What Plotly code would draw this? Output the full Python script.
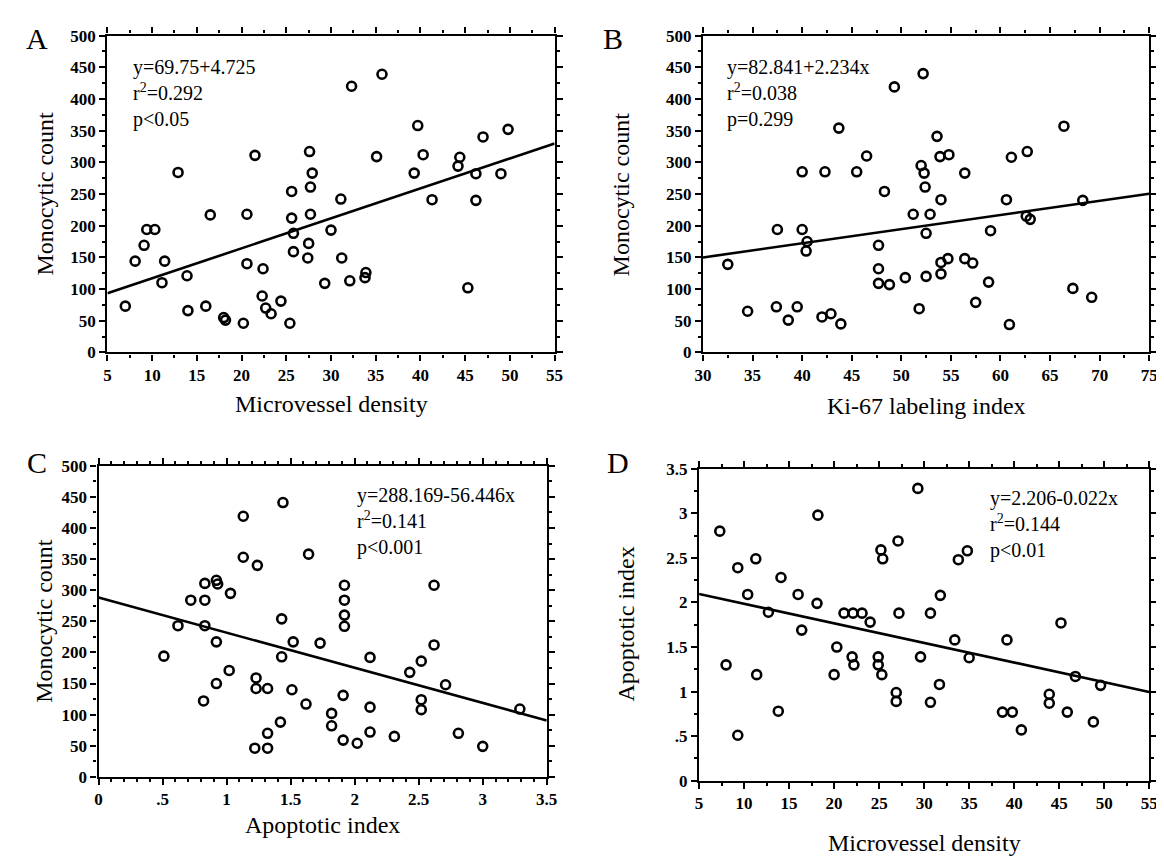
import plotly.graph_objects as go

W, H = 1164, 859

# ---------------- data ----------------
# Panel A: Microvessel density vs Monocytic count
a_mvd = [7.0, 8.1, 9.1, 9.4, 10.3, 11.4, 11.1, 12.9, 13.9, 14.0,
         16.0, 16.5, 18.0, 18.2, 20.2, 20.6, 20.6, 22.4, 22.3, 22.7,
         23.3, 24.4, 25.4, 25.6, 25.6, 25.8, 25.8, 27.6, 27.9, 27.7,
         27.7, 27.5, 27.4, 21.5, 32.3, 35.7, 39.7, 47.0, 49.8, 35.1,
         40.3, 39.3, 44.4, 44.2, 46.2, 49.0, 31.1, 41.3, 46.2, 30.0,
         31.2, 29.3, 32.1, 33.9, 33.8, 45.3]
a_mono = [73, 144, 169, 194, 194, 144, 110, 284, 121, 66,
          73, 217, 55, 51, 46, 218, 140, 132, 89, 70,
          61, 81, 46, 254, 212, 188, 159, 317, 283, 261,
          218, 172, 149, 311, 420, 439, 358, 340, 352, 309,
          312, 283, 308, 294, 282, 282, 242, 241, 240, 193,
          149, 109, 113, 126, 118, 102]

# Panel B: Ki-67 labeling index vs Monocytic count
b_ki = [32.5, 34.5, 37.4, 37.5, 38.6, 39.5, 40.0, 40.0, 40.5, 40.4,
        42.3, 42.0, 42.9, 43.9, 43.7, 45.5, 46.5, 48.3, 49.3, 47.7,
        47.7, 47.7, 48.8, 50.4, 52.2, 53.6, 53.9, 54.8, 52.0, 52.3,
        52.4, 54.0, 51.2, 52.9, 52.5, 56.4, 60.6, 61.1, 62.7, 66.4,
        68.3, 62.6, 63.0, 59.0, 54.0, 54.7, 56.4, 57.2, 54.0, 52.5,
        51.8, 57.5, 58.8, 60.9, 67.3, 69.2]
b_mono = [139, 65, 72, 194, 51, 72, 285, 194, 175, 160,
          285, 56, 61, 45, 354, 285, 310, 254, 419, 169,
          132, 109, 107, 118, 440, 341, 309, 312, 295, 283,
          261, 241, 218, 218, 188, 283, 241, 308, 317, 357,
          240, 215, 210, 192, 142, 148, 148, 141, 124, 120,
          69, 79, 111, 44, 101, 87]

# Panel C: Apoptotic index vs Monocytic count
c_ai = [0.51, 0.62, 0.72, 0.83, 0.83, 0.83, 0.82, 0.92, 0.93, 0.92,
        0.92, 1.03, 1.02, 1.13, 1.13, 1.24, 1.23, 1.23, 1.32, 1.22,
        1.32, 1.32, 1.42, 1.43, 1.43, 1.44, 1.52, 1.51, 1.62, 1.64,
        1.73, 1.92, 1.92, 1.92, 1.92, 1.91, 1.82, 1.82, 1.91, 2.02,
        2.12, 2.12, 2.12, 2.31, 2.43, 2.52, 2.52, 2.52, 2.62, 2.62,
        2.71, 2.81, 3.0, 3.29]
c_mono = [194, 243, 284, 284, 311, 243, 122, 316, 310, 217,
          150, 295, 171, 419, 353, 340, 159, 142, 142, 46,
          46, 70, 88, 254, 193, 441, 217, 140, 117, 358,
          215, 308, 284, 260, 242, 131, 102, 82, 59, 54,
          192, 112, 72, 65, 168, 186, 124, 108, 212, 308,
          148, 70, 49, 109]

# Panel D: Microvessel density vs Apoptotic index
d_mvd = [7.3, 8.0, 9.3, 9.3, 10.4, 11.3, 11.4, 12.7, 13.8, 14.1,
         16.0, 16.4, 18.2, 18.1, 20.3, 20.0, 21.1, 22.1, 23.1, 24.0,
         22.0, 22.2, 24.9, 24.9, 25.3, 25.2, 25.4, 27.1, 27.2, 26.9,
         26.9, 29.3, 33.8, 34.8, 31.8, 30.7, 33.4, 29.6, 35.0, 31.7,
         30.7, 39.2, 38.7, 39.8, 40.8, 43.9, 43.9, 45.2, 45.9, 46.8,
         49.6, 48.8]
d_ai = [2.80, 1.30, 2.39, 0.51, 2.09, 2.49, 1.19, 1.89, 0.78, 2.28,
        2.09, 1.69, 2.98, 1.99, 1.50, 1.19, 1.88, 1.88, 1.88, 1.78,
        1.39, 1.30, 1.39, 1.30, 1.19, 2.59, 2.49, 2.69, 1.88, 0.99,
        0.89, 3.28, 2.48, 2.58, 2.08, 1.88, 1.58, 1.39, 1.38, 1.08,
        0.88, 1.58, 0.77, 0.77, 0.57, 0.97, 0.87, 1.77, 0.77, 1.17,
        1.07, 0.66]

# regression lines (intercept, slope)
a_fit = (69.75, 4.725)
b_fit = (82.841, 2.234)
c_fit = (288.169, -56.446)
d_fit = (2.206, -0.022)

a_eq = ["y=69.75+4.725", "r<sup>2</sup>=0.292", "p<0.05"]
b_eq = ["y=82.841+2.234x", "r<sup>2</sup>=0.038", "p=0.299"]
c_eq = ["y=288.169-56.446x", "r<sup>2</sup>=0.141", "p<0.001"]
d_eq = ["y=2.206-0.022x", "r<sup>2</sup>=0.144", "p<0.01"]

mono_ticks = [0, 50, 100, 150, 200, 250, 300, 350, 400, 450, 500]
mvd_ticks = [5, 10, 15, 20, 25, 30, 35, 40, 45, 50, 55]
ki_ticks = [30, 35, 40, 45, 50, 55, 60, 65, 70, 75]
ai_ticks = [0, 0.5, 1, 1.5, 2, 2.5, 3, 3.5]
ai_ticktext = ["0", ".5", "1", "1.5", "2", "2.5", "3", "3.5"]

# ---------------- layout helpers ----------------
def px_x(p):
    return p / W

def px_y(p):
    return 1 - p / H

SERIF = "Liberation Serif"
tickfont = dict(family=SERIF, size=17, color="black", weight="bold")

def axis(domain, rng, tickvals, ticktext, minor_dtick, anchor):
    return dict(
        domain=domain, range=rng, anchor=anchor,
        tickmode="array", tickvals=tickvals, ticktext=ticktext,
        ticks="outside", ticklen=6, tickwidth=2, tickcolor="black",
        showline=True, linecolor="black", linewidth=2.4, mirror="ticks",
        showgrid=False, zeroline=False, tickfont=tickfont,
        minor=dict(ticks="outside", ticklen=3, tickwidth=1.5,
                   tickcolor="black", dtick=minor_dtick, showgrid=False),
    )

fig = go.Figure()

panels = [
    (a_mvd, a_mono, a_fit, [5, 55], ""),
    (b_ki, b_mono, b_fit, [30, 75], "2"),
    (c_ai, c_mono, c_fit, [0, 3.5], "3"),
    (d_mvd, d_ai, d_fit, [5, 55], "4"),
]

for xs, ys, fit, xr, s in panels:
    b0, b1 = fit
    fig.add_trace(go.Scatter(
        x=xr, y=[b0 + b1 * xr[0], b0 + b1 * xr[1]], mode="lines",
        xaxis="x" + s, yaxis="y" + s,
        line=dict(color="black", width=2.6), showlegend=False))
    fig.add_trace(go.Scatter(
        x=xs, y=ys, mode="markers", xaxis="x" + s, yaxis="y" + s,
        marker=dict(symbol="circle-open", size=9, color="black",
                    line=dict(width=2.6, color="black")),
        showlegend=False, cliponaxis=False))

# panel pixel boxes: left, right, top, bottom
boxA = (92, 547, 19, 343)
boxB = (698, 1152, 19, 343)
boxC = (83, 539, 459, 777)
boxD = (694, 1152, 462, 781)

def dom(box):
    l, r, t, b = box
    return [px_x(l), px_x(r)], [px_y(b), px_y(t)]

xa, ya = dom(boxA)
xb, yb = dom(boxB)
xc, yc = dom(boxC)
xd, yd = dom(boxD)

fig.update_layout(
    width=W, height=H, margin=dict(l=0, r=0, t=0, b=0),
    paper_bgcolor="white", plot_bgcolor="white",
    xaxis=axis(xa, [5, 55], mvd_ticks, [str(v) for v in mvd_ticks], 2.5, "y"),
    yaxis=axis(ya, [0, 500], mono_ticks, [str(v) for v in mono_ticks], 25, "x"),
    xaxis2=axis(xb, [30, 75], ki_ticks, [str(v) for v in ki_ticks], 2.5, "y2"),
    yaxis2=axis(yb, [0, 500], mono_ticks, [str(v) for v in mono_ticks], 25, "x2"),
    xaxis3=axis(xc, [0, 3.5], ai_ticks, ai_ticktext, 0.1, "y3"),
    yaxis3=axis(yc, [0, 500], mono_ticks, [str(v) for v in mono_ticks], 25, "x3"),
    xaxis4=axis(xd, [5, 55], mvd_ticks, [str(v) for v in mvd_ticks], 2.5, "y4"),
    yaxis4=axis(yd, [0, 3.5], ai_ticks, ai_ticktext, 0.25, "x4"),
)

ann = []
def text(x, y, t, size, xanchor="center", yanchor="middle", angle=0, align="center"):
    ann.append(dict(x=px_x(x), y=px_y(y), xref="paper", yref="paper", text=t,
                    showarrow=False, xanchor=xanchor, yanchor=yanchor,
                    textangle=angle, align=align,
                    font=dict(family=SERIF, size=size, color="black")))

# panel letters
text(20, 22, "A", 30)
text(606, 22, "B", 30)
text(20, 456, "C", 30)
text(612, 456, "D", 30)

# axis titles
text(320, 396, "Microvessel density", 24)
text(925, 398, "Ki-67 labeling index", 24)
text(311, 826, "Apoptotic index", 24)
text(923, 845, "Microvessel density", 24)
text(28, 181, "Monocytic count", 24, angle=-90)
text(615, 181, "Monocytic count", 24, angle=-90)
text(28, 618, "Monocytic count", 24, angle=-90)
text(620, 621, "Apoptotic index", 24, angle=-90)

# regression statistics
text(116, 38, "<br>".join(a_eq), 20, xanchor="left", yanchor="top", align="left")
text(720, 38, "<br>".join(b_eq), 20, xanchor="left", yanchor="top", align="left")
text(344, 476, "<br>".join(c_eq), 20, xanchor="left", yanchor="top", align="left")
text(988, 479, "<br>".join(d_eq), 20, xanchor="left", yanchor="top", align="left")

fig.update_layout(annotations=ann)

fig.write_html("out.html")
